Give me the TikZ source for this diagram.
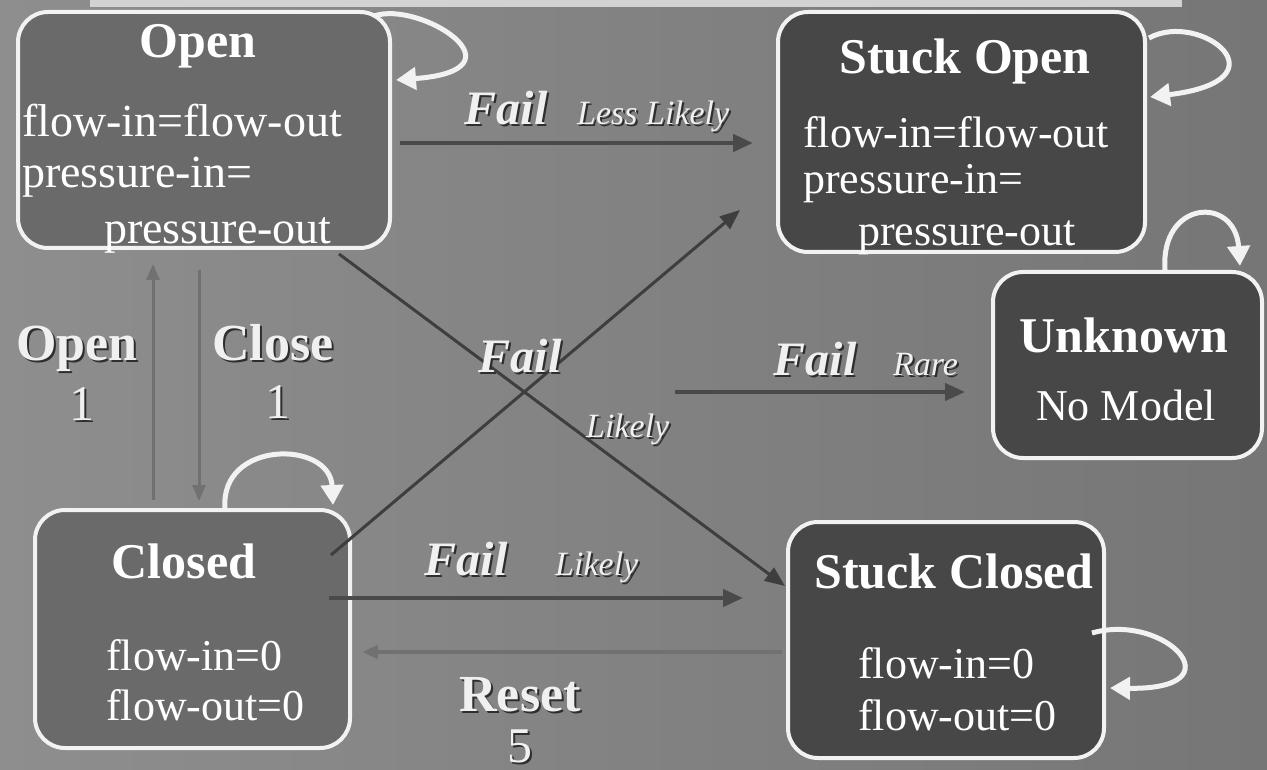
\documentclass[tikz,border=0pt]{standalone}
\usepackage{fontspec}
\setmainfont{Liberation Serif}
\usetikzlibrary{arrows.meta,calc}
\definecolor{bgL}{HTML}{8E8E8E}
\definecolor{bgR}{HTML}{767676}
\definecolor{midbox}{HTML}{6A6A6A}
\definecolor{darkbox}{HTML}{474747}
\definecolor{edgew}{HTML}{F2F2F2}
\definecolor{failc}{HTML}{4A4A4A}
\definecolor{crossc}{HTML}{3E3E3E}
\definecolor{softc}{HTML}{717171}
\definecolor{labc}{HTML}{F0F0F0}
\definecolor{shadc}{HTML}{2E2E2E}
\definecolor{bandc}{HTML}{D2D2D2}
\tikzset{
  statebox/.style={draw=edgew, line width=4pt, rounded corners=30pt, inner sep=0pt},
  boxtxt/.style={text=white, font=\fontsize{44}{50}\selectfont, inner sep=0pt},
  boxtitle/.style={text=white, font=\bfseries\fontsize{50}{56}\selectfont, inner sep=0pt, anchor=base},
  lab/.style={text=labc, inner sep=0pt},
  labsh/.style={text=shadc, inner sep=0pt},
  failfont/.style={font=\bfseries\itshape\fontsize{48}{54}\selectfont, anchor=base},
  smallit/.style={font=\itshape\fontsize{34}{40}\selectfont, anchor=base west},
  bigbold/.style={font=\bfseries\fontsize{52}{58}\selectfont, anchor=base},
  digit/.style={font=\fontsize{50}{56}\selectfont, anchor=base},
  failarrow/.style={draw=failc, line width=4.5pt, -{Triangle[length=20pt,width=17pt]}},
  crossarrow/.style={draw=crossc, line width=3pt, -{Triangle[length=20pt,width=16pt]}},
  softarrow/.style={draw=softc, line width=3pt, -{Triangle[length=16pt,width=13pt]}},
  selfloop/.style={draw=edgew, line width=5pt, -{Triangle[length=20pt,width=22pt]}},
}
\newcommand\shlab[4]{%
  \node[labsh,#3] (#1s) at ($#2+(2,2)$) {#4};
  \node[lab,#3] (#1) at #2 {#4};}
\begin{document}
\begin{tikzpicture}[x=1pt,y=-1pt]
\useasboundingbox (0,0) rectangle (1267,770);
\shade[left color=bgL, right color=bgR] (0,0) rectangle (1267,770);
\fill[bandc] (90,0) rectangle (1182,7);

% state boxes
\node[statebox, fill=midbox, minimum width=372pt, minimum height=236pt] (open) at (204,130) {};
\node[statebox, fill=darkbox, minimum width=367pt, minimum height=240pt] (stuckopen) at (961.5,132) {};
\node[statebox, fill=darkbox, minimum width=269pt, minimum height=186pt] (unknown) at (1127.5,365) {};
\node[statebox, fill=midbox, minimum width=315pt, minimum height=238pt] (closed) at (192.5,629) {};
\node[statebox, fill=darkbox, minimum width=316pt, minimum height=236pt] (stuckclosed) at (946,640) {};

% box texts
\node[boxtitle] (tOpen) at (198,58) {Open};
\node[boxtxt, anchor=base west, font=\fontsize{46}{52}\selectfont] (o1) at (22,137) {flow-in=flow-out};
\node[boxtxt, anchor=base west, font=\fontsize{46}{52}\selectfont] (o2) at (22,188) {pressure-in=};
\node[boxtxt, anchor=base west, font=\fontsize{46}{52}\selectfont] (o3) at (104,244) {pressure-out};

\node[boxtitle] (tSO) at (965,74) {Stuck Open};
\node[boxtxt, anchor=base west] (so1) at (803,148) {flow-in=flow-out};
\node[boxtxt, anchor=base west] (so2) at (803,194) {pressure-in=};
\node[boxtxt, anchor=base west] (so3) at (858,246) {pressure-out};

\node[boxtitle] (tUn) at (1124,352) {Unknown};
\node[boxtxt, anchor=base] (un1) at (1126,420) {No Model};

\node[boxtitle] (tCl) at (184,578) {Closed};
\node[boxtxt, anchor=base west] (c1) at (106,670) {flow-in=0};
\node[boxtxt, anchor=base west] (c2) at (106,720) {flow-out=0};

\node[boxtitle] (tSC) at (954,588) {Stuck Closed};
\node[boxtxt, anchor=base west] (sc1) at (858,678) {flow-in=0};
\node[boxtxt, anchor=base west] (sc2) at (858,730) {flow-out=0};

% connectors
\draw[failarrow] ($(open.east)+(8,13)$) -- ($(stuckopen.west)+(-23,11)$);
\draw[crossarrow] ($(closed.east)+(-21,-74)$) -- ($(stuckopen.south west)+(-36,-44)$);
\draw[crossarrow] ($(open.south east)+(-53,4)$) -- ($(stuckclosed.west)+(-1,-54)$);
\draw[failarrow] ($(closed.east)+(-23,-31)$) -- ($(stuckclosed.west)+(-43,-42)$);
\draw[softarrow, line width=4pt] ($(stuckclosed.west)+(-4,12)$) -- ($(closed.east)+(10,23)$);
\coordinate (rareStart) at (675,392);
\draw[failarrow, line width=4pt] (rareStart) -- ($(unknown.west)+(-26,27)$);
\draw[softarrow] ($(closed.north)+(-39.5,-8)$) -- ($(open.south)+(-51,14)$);
\draw[softarrow] ($(open.south)+(-5,20)$) -- ($(closed.north)+(6.5,-7)$);

% self loops
\draw[selfloop] ($(open.north east)+(-18,6)$) .. controls (420,0) and (530,70) .. ($(open.east)+(4,-50)$);
\draw[selfloop] ($(stuckopen.north east)+(2,28)$) .. controls (1200,10) and (1290,80) .. ($(stuckopen.east)+(3,-35)$);
\draw[selfloop] ($(unknown.north)+(37.5,0)$) .. controls (1160,200) and (1235,195) .. ($(unknown.north)+(112.5,-4)$);
\draw[selfloop] ($(closed.north)+(32.5,0)$) .. controls (220,440) and (330,440) .. ($(closed.north)+(140.5,-3)$);
\draw[selfloop] ($(stuckclosed.east)+(-14,-7)$) .. controls (1165,612) and (1240,690) .. ($(stuckclosed.east)+(4,48)$);

% labels
\shlab{failA}{(506,125)}{failfont}{Fail}
\shlab{lessA}{(577,125)}{smallit}{Less Likely}
\shlab{failB}{(520,372)}{failfont}{Fail}
\shlab{likelyB}{(586,437)}{smallit}{Likely}
\shlab{failC}{(815,375)}{failfont}{Fail}
\shlab{rareC}{(893,375)}{smallit}{Rare}
\shlab{failD}{(466,575)}{failfont}{Fail}
\shlab{likelyD}{(555,575)}{smallit}{Likely}
\shlab{openL}{(77,360)}{bigbold}{Open}
\shlab{oneA}{(82,420)}{digit}{1}
\shlab{closeL}{(273,360)}{bigbold}{Close}
\shlab{oneB}{(278,418)}{digit}{1}
\shlab{resetL}{(520,711)}{bigbold}{Reset}
\shlab{fiveL}{(520,762)}{digit}{5}
\end{tikzpicture}
\end{document}
